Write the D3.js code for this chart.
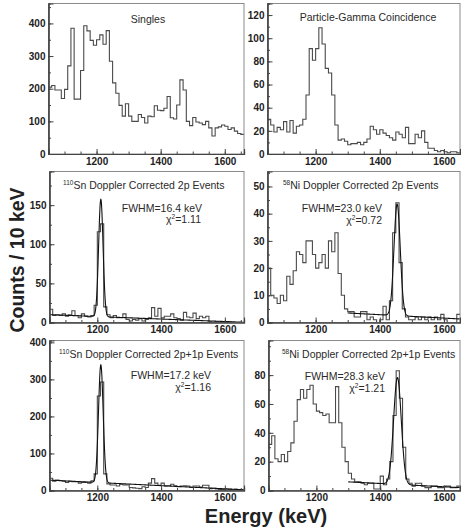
<!DOCTYPE html>
<html><head><meta charset="utf-8">
<script src="https://cdn.jsdelivr.net/npm/d3@7"></script>
<style>
body{margin:0;background:#fff}
svg{display:block}
text{font-family:"Liberation Sans",Arial,Helvetica,sans-serif}
</style>
</head><body>
<svg id="c" width="461" height="528"></svg>
<script>
// ---- data (counts per 10 keV bin, first bin starts at 1050 keV) ----
const binStart = 1050, binWidth = 10;
const singles = [205,210,196,196,170,198,270,385,168,168,256,393,377,348,333,350,365,336,378,284,218,186,149,116,154,116,100,100,121,112,95,116,114,148,134,133,140,176,111,107,150,227,196,100,87,112,98,95,90,100,80,55,80,83,89,85,75,80,70,63,60];
const particleGamma = [30,25,19,23,21,28,19,29,18,24,25,30,51,91,81,91,109,95,74,70,51,25,12,13,11,8,9,9,10,8,10,13,24,21,17,21,18,16,14,12,19,17,14,23,9,9,17,14,20,10,5,5,3,2,3,2,1,2,2,1,1];
const sn2p = [17,9,10,9,11,8,10,15,9,6,11,8,7,9,22,116,126,20,10,6,9,6,6,11,4,2,4,3,5,2,4,6,19,8,18,6,8,8,11,6,5,3,13,7,6,12,5,8,6,8,1,0,1,0,0,0,1,0,0,0,0];
const ni2p = [20,10,9,7,10,8,17,14,19,26,25,22,30,30,25,20,22,25,20,30,26,33,18,10,5,4,4,2,2,4,4,1,2,1,0,1,6,1,8,33,44,22,5,2,1,1,2,1,2,1,2,1,2,1,3,1,0,0,0,3,3];
const sn2p1p = [33,25,28,27,25,22,25,24,24,20,22,22,20,26,45,255,293,45,18,15,15,12,17,15,15,8,7,6,5,10,8,20,32,20,14,20,12,13,17,13,10,12,13,12,8,12,12,9,14,14,5,6,4,3,3,4,3,2,3,2,2];
const ni2p1p = [32,38,22,20,25,20,27,33,48,63,70,64,70,73,60,55,54,52,53,47,47,72,47,30,20,12,8,6,6,5,4,5,5,1,1,10,4,8,20,52,83,64,30,8,5,3,5,5,3,2,2,3,3,2,2,3,3,2,2,3,3];

// fit parameters: [centre keV, gaussian amplitude, FWHM keV, bkg at start, bkg at end, range start, range end]
const fitSn2p   = [1211, 150, 16.4, 10, 0.3, 1050, 1660];
const fitNi2p   = [1454, 41, 23.0, 3.5, 1.3, 1300, 1650];
const fitSn2p1p = [1211, 318, 17.2, 28, 2, 1050, 1660];
const fitNi2p1p = [1454, 74, 28.3, 6, 2, 1300, 1650];

const titles = ["Singles","Particle-Gamma Coincidence",
  ["110","Sn Doppler Corrected 2p Events"],["58","Ni Doppler Corrected 2p Events"],
  ["110","Sn Doppler Corrected 2p+1p Events"],["58","Ni Doppler Corrected 2p+1p Events"]];
const fwhmLabels = [null,null,"FWHM=16.4 keV","FWHM=23.0 keV","FWHM=17.2 keV","FWHM=28.3 keV"];
const chiLabels  = [null,null,"=1.11","=0.72","=1.16","=1.21"];
const xTickLabels = [1200,1400,1600];
const yTicksSingles = [0,100,200,300,400];
const yTicksPG = [0,20,40,60,80,100,120];
const yTicksSn2p = [0,50,100,150];
const yTicksNi2p = [0,10,20,30,40,50];
const yTicksSn2p1p = [0,100,200,300,400];
const yTicksNi2p1p = [0,20,40,60,80];

// ---- layout ----
const panels = [
 {data:singles, box:[48.5,3.5,244,154], xDom:[1050,1660], yDom:[0,461], yT:yTicksSingles, yMin:50,
  title:{x:148,y:23}},
 {data:particleGamma, box:[267.5,3.5,460,154], xDom:[1050,1650], yDom:[0,130], yT:yTicksPG, yMin:10,
  title:{x:368,y:21}},
 {data:sn2p, fit:fitSn2p, box:[49.5,171.5,244,322.5], xDom:[1050,1660], yDom:[0,193], yT:yTicksSn2p, yMin:25,
  title:{x:63,y:189,anchor:"start"}, fw:{x:202,y:212}, chi:{x:201,y:223}},
 {data:ni2p, fit:fitNi2p, box:[267.5,171.5,460,322.5], xDom:[1050,1650], yDom:[0,55.5], yT:yTicksNi2p, yMin:5,
  title:{x:283,y:189,anchor:"start"}, fw:{x:382,y:212}, chi:{x:382,y:224}},
 {data:sn2p1p, fit:fitSn2p1p, box:[49.5,340.5,244,490.5], xDom:[1050,1660], yDom:[0,405], yT:yTicksSn2p1p, yMin:50,
  title:{x:59,y:358,anchor:"start"}, fw:{x:211,y:379}, chi:{x:211,y:391}},
 {data:ni2p1p, fit:fitNi2p1p, box:[268.5,340.5,460,490.5], xDom:[1050,1650], yDom:[0,104], yT:yTicksNi2p1p, yMin:10,
  title:{x:282,y:358,anchor:"start"}, fw:{x:385,y:380}, chi:{x:385,y:392}}
];

const svg = d3.select("#c");
const defs = svg.append("defs");
const FONT = '"Liberation Sans",Arial,Helvetica,sans-serif';

panels.forEach((p,i)=>{
  const [x0,y0,x1,y1] = p.box;
  const x = d3.scaleLinear().domain(p.xDom).range([x0,x1]);
  const y = d3.scaleLinear().domain(p.yDom).range([y1,y0]);
  const cid = "clip"+i;
  defs.append("clipPath").attr("id",cid).append("rect")
    .attr("x",x0).attr("y",y0).attr("width",x1-x0).attr("height",y1-y0);
  const g = svg.append("g");

  // histogram
  const pts = p.data.map((v,k)=>[binStart+k*binWidth, v]);
  pts.push([binStart+p.data.length*binWidth, p.data[p.data.length-1]]);
  const line = d3.line().x(d=>x(d[0])).y(d=>y(d[1])).curve(d3.curveStepAfter);
  g.append("path").attr("clip-path",`url(#${cid})`).attr("d",line(pts))
    .attr("fill","none").attr("stroke","#4a4a4a").attr("stroke-width",1.1);

  // fit curve (gaussian + linear background)
  if(p.fit){
    const [c,a,fw,b0,b1,r0,r1] = p.fit;
    const s = fw/2.3548;
    const xs = d3.range(r0, r1+0.01, 0.5);
    const f = e => a*Math.exp(-((e-c)*(e-c))/(2*s*s)) + b0 + (b1-b0)*(e-r0)/(r1-r0);
    const fl = d3.line().x(e=>x(e)).y(e=>y(f(e)));
    g.append("path").attr("clip-path",`url(#${cid})`).attr("d",fl(xs))
      .attr("fill","none").attr("stroke","#111").attr("stroke-width",1.1);
  }

  // frame
  g.append("rect").attr("x",x0).attr("y",y0).attr("width",x1-x0).attr("height",y1-y0)
    .attr("fill","none").attr("stroke","#8a8a8a").attr("stroke-width",1);

  // axes
  const minorX = d3.range(1050, p.xDom[1]+0.1, 50);
  const gx = g.append("g").attr("transform",`translate(0,${y1})`);
  gx.call(d3.axisBottom(x).tickValues(minorX).tickSize(-2.5).tickFormat(""));
  const gxM = g.append("g").attr("transform",`translate(0,${y1})`);
  gxM.call(d3.axisBottom(x).tickValues(xTickLabels).tickSize(-5).tickPadding(3.5).tickFormat(d3.format("d")));
  const minorY = d3.range(0, p.yDom[1]+0.001, p.yMin);
  const gy = g.append("g").attr("transform",`translate(${x0},0)`);
  gy.call(d3.axisLeft(y).tickValues(minorY).tickSize(-2.5).tickFormat(""));
  const gyM = g.append("g").attr("transform",`translate(${x0},0)`);
  gyM.call(d3.axisLeft(y).tickValues(p.yT).tickSize(-5).tickPadding(3).tickFormat(d3.format("d")));
  [gx,gxM,gy,gyM].forEach(a=>{
    a.selectAll(".domain").attr("stroke","#444").attr("stroke-width",1.2);
    a.selectAll(".tick line").attr("stroke","#444").attr("stroke-width",1);
    a.selectAll("text").attr("font-family",FONT).attr("font-weight","bold")
      .attr("font-size","10px").attr("fill","#222");
  });

  // titles
  const t = titles[i];
  const tt = g.append("text").attr("x",p.title.x).attr("y",p.title.y)
    .attr("text-anchor",p.title.anchor||"middle").attr("font-family",FONT)
    .attr("font-size","10.5px").attr("fill","#2a2a2a");
  if(typeof t === "string"){ tt.text(t); }
  else {
    tt.append("tspan").attr("font-size","6.5px").attr("dy","-4").text(t[0]);
    tt.append("tspan").attr("dy","4").text(t[1]);
  }
  if(fwhmLabels[i]){
    g.append("text").attr("x",p.fw.x).attr("y",p.fw.y).attr("text-anchor","end")
      .attr("font-family",FONT).attr("font-size","10.5px").attr("fill","#2a2a2a").text(fwhmLabels[i]);
    const ct = g.append("text").attr("x",p.chi.x).attr("y",p.chi.y).attr("text-anchor","end")
      .attr("font-family",FONT).attr("font-size","10.5px").attr("fill","#2a2a2a");
    ct.append("tspan").text("χ");
    ct.append("tspan").attr("font-size","6.5px").attr("dy","-4").text("2");
    ct.append("tspan").attr("dy","4").text(chiLabels[i]);
  }
});

// axis titles
svg.append("text").attr("transform","translate(24,260) rotate(-90)").attr("text-anchor","middle")
  .attr("font-family",FONT).attr("font-weight","bold").attr("font-size","19.5px").attr("fill","#222")
  .text("Counts / 10 keV");
svg.append("text").attr("x",266).attr("y",523).attr("text-anchor","middle")
  .attr("font-family",FONT).attr("font-weight","bold").attr("font-size","20px").attr("fill","#222")
  .text("Energy (keV)");
</script>
</body></html>
